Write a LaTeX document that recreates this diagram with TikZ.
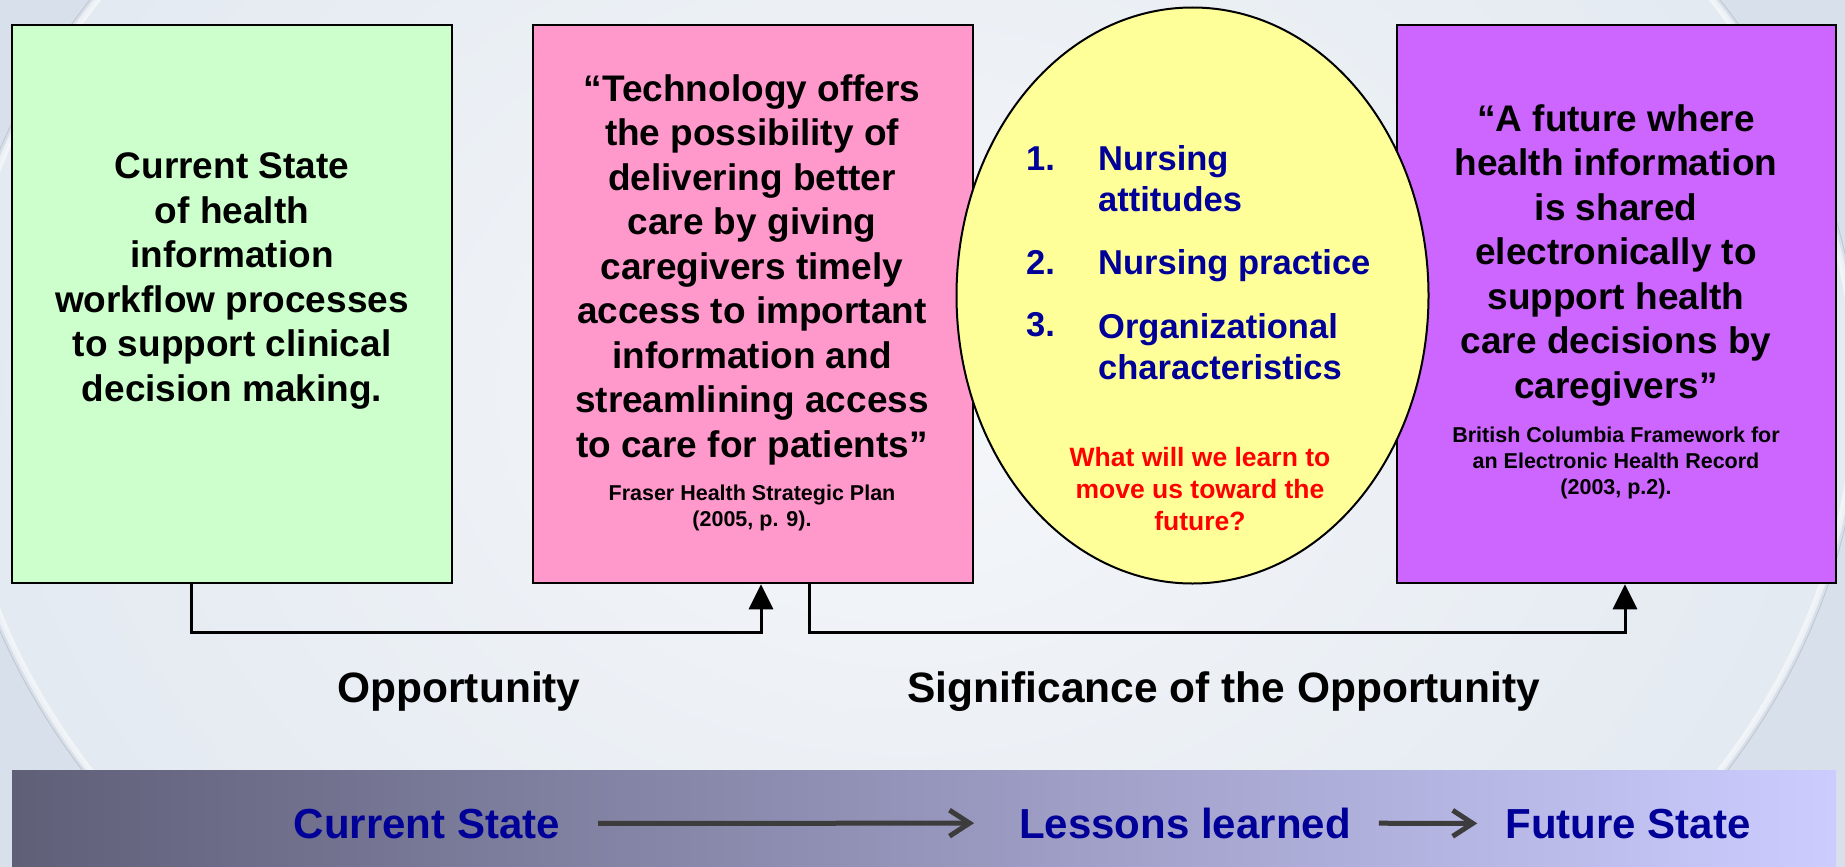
\documentclass[tikz,border=0pt]{standalone}
\usepackage{fontspec}
\setmainfont{Liberation Sans}
\usetikzlibrary{arrows.meta, shapes.geometric, positioning}

\definecolor{nowgreen}{HTML}{CCFFCC}
\definecolor{quotepink}{HTML}{FF99CC}
\definecolor{learnyellow}{HTML}{FFFF99}
\definecolor{futurepurple}{HTML}{CC66FF}
\definecolor{navy}{HTML}{000099}
\definecolor{bgedge}{HTML}{D8E1EB}
\definecolor{bgmid}{HTML}{F5F7FA}
\definecolor{bardark}{HTML}{5F5F78}
\definecolor{barlight}{HTML}{CCCCFF}
\definecolor{flowgray}{HTML}{3C3C3C}

\tikzset{
	box/.style={draw, line width=2.5pt, minimum width=440pt, minimum height=558pt, inner sep=0pt},
	% multi-line nodes sit on the baseline of their last line
	bigtext/.style={align=center, anchor=base, inner sep=0pt, font=\fontsize{37}{44.5}\selectfont\bfseries},
	smalltext/.style={align=center, anchor=base, inner sep=0pt, font=\fontsize{21.5}{25.8}\selectfont\bfseries},
	itemtext/.style={align=left, anchor=base west, inner sep=0pt, text=navy, font=\fontsize{34.5}{41}\selectfont\bfseries},
	asktext/.style={align=center, anchor=base, inner sep=0pt, text=red, font=\fontsize{26.5}{32}\selectfont\bfseries},
	captext/.style={anchor=base, inner sep=0pt, font=\fontsize{42.5}{50}\selectfont\bfseries},
	bartext/.style={anchor=base, inner sep=0pt, text=navy, font=\fontsize{42}{50}\selectfont\bfseries},
	link/.style={line width=3pt, -{Triangle[length=25pt, width=24pt]}},
	flow/.style={line width=5pt, draw=flowgray, -{Straight Barb[length=20pt, width=26pt]}}
}

\begin{document}
\begin{tikzpicture}[x=1pt, y=-1pt]
	\useasboundingbox (0,0) rectangle (1845,867);

	% backdrop with the big lens
	\begin{scope}
		\clip (0,0) rectangle (1845,867);
		\fill[bgedge] (0,0) rectangle (1845,867);
		\shade[inner color=bgmid, outer color=bgedge!60!bgmid] (905,390) ellipse [x radius=950, y radius=740];
		\draw[white, line width=6pt, opacity=0.55] (905,390) ellipse [x radius=950, y radius=740];
		\draw[gray, line width=1pt, opacity=0.25] (905,390) ellipse [x radius=956, y radius=746];
	\end{scope}

	% blocks
	\node[box, fill=nowgreen] (now) at (232,304) {};
	\node[box, fill=quotepink] (plan) at (753,304) {};
	\node[box, fill=futurepurple, minimum width=439pt] (future) at (1616.5,304) {};
	\node[draw, ellipse, line width=2pt, fill=learnyellow, minimum width=472pt, minimum height=576pt, inner sep=0pt] (learn) at (1192.5,295.5) {};

	\node[bigtext] (nowtext) at (232,401) {Current State\\of health\\information\\workflow processes\\to support clinical\\decision making.};

	\node[bigtext] (plantext) at (752,457) {“Technology offers\\the possibility of\\delivering better\\care by giving\\caregivers timely\\access to important\\information and\\streamlining access\\to care for patients”};
	\node[smalltext] (plancite) at (752,526) {Fraser Health Strategic Plan\\(2005, p. 9).};

	\node[itemtext] (num1) at (1026,170) {1.};
	\node[itemtext] (item1) at (1098,211) {Nursing\\attitudes};
	\node[itemtext] (num2) at (1026,274) {2.};
	\node[itemtext] (item2) at (1098,274) {Nursing practice};
	\node[itemtext] (num3) at (1026,336) {3.};
	\node[itemtext] (item3) at (1098,379) {Organizational\\characteristics};
	\node[asktext] (ask) at (1200,530) {What will we learn to\\move us toward the\\future?};

	\node[bigtext] (futuretext) at (1616,398) {“A future where\\health information\\is shared\\electronically to\\support health\\care decisions by\\caregivers”};
	\node[smalltext] (futurecite) at (1616,494) {British Columbia Framework for\\an Electronic Health Record\\(2003, p.2).};

	% connectors under the blocks
	\draw[link] ([xshift=-41pt]now.south) -- ++(0,48.5) -| ([xshift=8pt]plan.south);
	\draw[link] ([xshift=56pt]plan.south) -- ++(0,48.5) -| ([xshift=8.5pt]future.south);

	\node[captext] (opp) at (459,702) {Opportunity};
	\node[captext] (sig) at (1224,702) {Significance of the Opportunity};

	% bottom bar
	\shade[left color=bardark, right color=barlight] (12,770) rectangle (1836,867);
	\node[bartext] (cur) at (427,838) {Current State};
	\node[bartext] (lessons) at (1185,838) {Lessons learned};
	\node[bartext] (fut) at (1628,838) {Future State};
	\draw[flow, shorten <=38pt, shorten >=45pt] (cur) -- (lessons);
	\draw[flow, shorten <=28pt, shorten >=28pt] (lessons) -- (fut);
\end{tikzpicture}
\end{document}
